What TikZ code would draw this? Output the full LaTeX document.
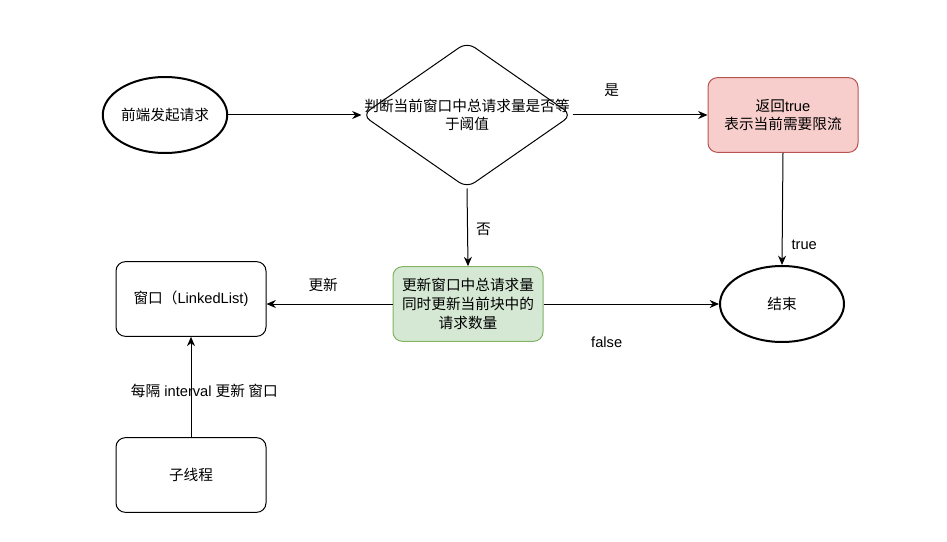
\documentclass[tikz,border=0pt]{standalone}
\usepackage{fontspec}
\setmainfont{Liberation Sans}
\newfontfamily\cjk{Noto Sans CJK SC}
\usepackage{tikz}
\usetikzlibrary{arrows.meta, positioning, shapes.geometric}
\definecolor{flowred}{HTML}{F8CECC}
\definecolor{flowredline}{HTML}{B85450}
\definecolor{flowgreen}{HTML}{D5E8D4}
\definecolor{flowgreenline}{HTML}{82B366}

\begin{document}
\begin{tikzpicture}[x=0.75pt,y=-0.75pt,
  every node/.style={font=\fontsize{11}{14}\selectfont},
  term/.style={ellipse,draw,line width=1.5pt,inner sep=0pt,minimum width=93pt,minimum height=57pt},
  box/.style={draw,line width=0.75pt,rounded corners=7pt,minimum width=112.5pt,
    minimum height=56pt,align=center},
  decision/.style={diamond,draw,line width=0.75pt,rounded corners=7pt,
    minimum width=157.5pt,minimum height=109.5pt,inner sep=0pt},
  flow/.style={-{Stealth[length=7pt,width=6pt]},line width=0.75pt}]
  \useasboundingbox (0,0) rectangle (947,542);
  \node[term](start) at (165,115){\cjk 前端发起请求};
  \node[decision](dec) at (467,115){};
  \node[align=center](dectext) at (467,115){\cjk 判断当前窗口中总请求量是否等\\\cjk 于阈值};
  \node[box,fill=flowred,draw=flowredline](ret) at (783,115){{\cjk 返回}true\\\cjk 表示当前需要限流};
  \node[term](stop) at (782,304){\cjk 结束};
  \node[box,fill=flowgreen,draw=flowgreenline](upd) at (468,304){\cjk 更新窗口中总请求量\\\cjk 同时更新当前块中的\\\cjk 请求数量};
  \node[box](win) at (191,299){{\cjk 窗口（}LinkedList)};
  \node[box](thread) at (191,475){\cjk 子线程};
  % connectors
  \draw[flow](start.east) -- (dec.west);
  \draw[flow](dec.east) -- node[pos=.29,yshift=18.75pt]{\cjk 是} (ret.west);
  \draw[flow](dec.south) -- node[pos=.53,xshift=12pt]{\cjk 否} (upd.north);
  \draw[flow](ret.south) -- node[pos=.82,xshift=16.5pt]{true} (stop.north);
  \draw[flow](upd.east) -- node[pos=.36,yshift=-29pt]{false} (stop.west);
  \draw[flow](upd.west) -- node[pos=.55,yshift=14pt]{\cjk 更新} (win.east |- upd.west);
  \draw[flow](thread.north) -- node[pos=.46,xshift=10pt]{{\cjk 每隔} interval {\cjk 更新 窗口}} (win.south);
\end{tikzpicture}
\end{document}
